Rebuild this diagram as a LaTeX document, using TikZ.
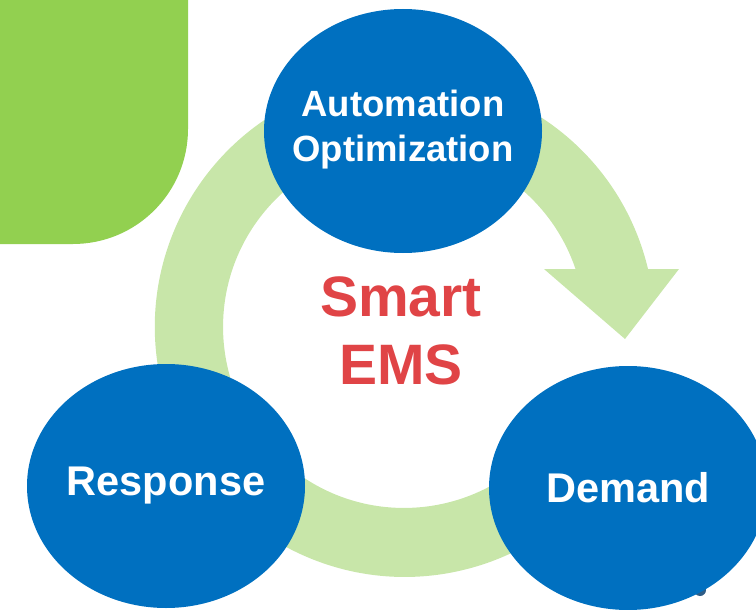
\documentclass[tikz,border=0pt]{standalone}
\usepackage{fontspec}
\setmainfont{Liberation Sans}
\usetikzlibrary{shapes.geometric}
\definecolor{emsblue}{HTML}{0070C0}
\definecolor{leafgreen}{HTML}{92D050}
\definecolor{ringgreen}{HTML}{C8E6A9}
\definecolor{emsred}{HTML}{E04446}
\definecolor{dotblue}{HTML}{2E5D87}
\begin{document}
\begin{tikzpicture}[
    x=1pt, y=-1pt,
    hub/.style={ellipse, fill=emsblue, minimum width=278pt, minimum height=244pt, inner sep=0pt},
    hubtext/.style={text=white, align=center, inner sep=0pt},
    ring/.style={fill=ringgreen}
  ]
    \useasboundingbox (0,0) rectangle (756,610);
    \fill[leafgreen, rounded corners=115pt] (-200,-200) rectangle (188,244);

    % cycle arrow
    \fill[ring] (648,269) arc[start angle=-13.4, end angle=-320, radius=250]
      -- (542.7,443.3) arc[start angle=-320, end angle=-18.7, radius=181] -- cycle;
    \fill[ring] (544,269) -- (679,269) -- (625,339) -- cycle;
    \fill[dotblue] (700,590) circle (6);

    \node[hub] (auto) at (403,131) {};
    \node[hub] (resp) at (166,486) {};
    \node[hub] (dem) at (628,488) {};
    \node[hubtext, font=\bfseries\fontsize{36.5}{45}\selectfont] (autotxt) at ([yshift=1pt]auto.center) {Automation\\Optimization};
    \node[hubtext, font=\bfseries\fontsize{41.5}{50}\selectfont] (resptxt) at (resp.center) {Response};
    \node[hubtext, font=\bfseries\fontsize{41.5}{50}\selectfont] (demtxt) at (dem.center) {Demand};
    \node[text=emsred, align=center, font=\bfseries\fontsize{57}{68}\selectfont] (ems) at (401,331) {Smart\\EMS};
  \end{tikzpicture}
\end{document}
